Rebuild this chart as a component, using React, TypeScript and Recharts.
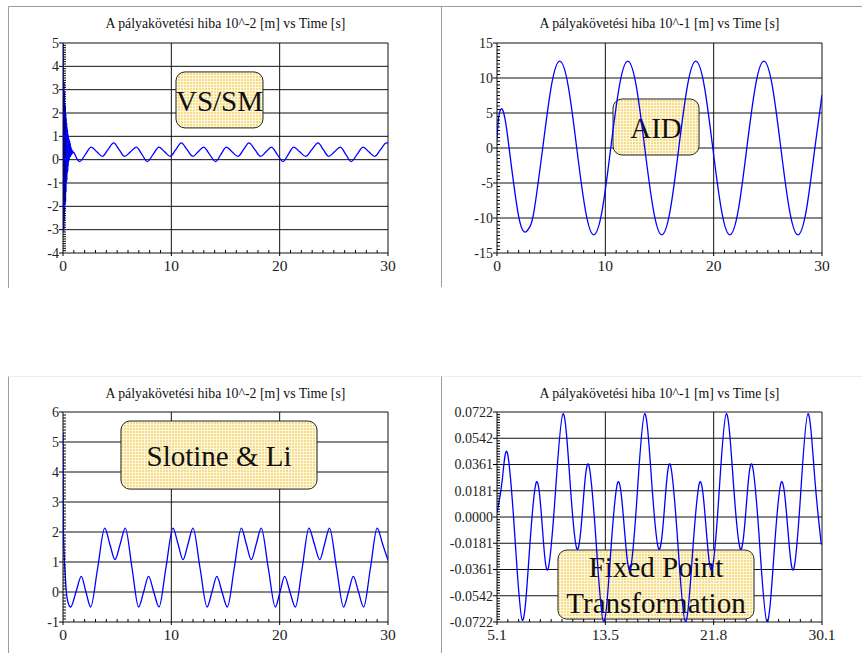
import React from 'react';
import { LineChart, Line, XAxis, YAxis, ReferenceLine, ReferenceArea } from 'recharts';

const serif = "'Liberation Serif', 'Times New Roman', serif";

// VS/SM tracking error [1e-2 m] vs time [s]
const vsSm: [number, number][] = [
  [0, 0], [0.02, 5.0], [0.04, -3.0], [0.06, 3.3], [0.08, -3.1], [0.1, 3.3], [0.12, -2.6], [0.14, 2.9],
  [0.16, -2.2], [0.18, 2.4], [0.2, -1.9], [0.22, 2.3], [0.24, -1.8], [0.26, 2.0], [0.28, -1.4], [0.3, 1.8],
  [0.32, -1.0], [0.34, 1.6], [0.36, -0.9], [0.38, 1.4], [0.4, -0.6], [0.42, 1.3], [0.44, -0.5], [0.46, 1.1],
  [0.48, -0.3], [0.5, 1.0], [0.53, -0.1], [0.56, 0.9], [0.59, 0.0], [0.62, 0.8], [0.65, 0.1], [0.68, 0.7],
  [0.71, 0.15], [0.74, 0.55], [0.77, 0.2], [0.8, 0.45], [0.84, 0.25], [0.88, 0.38], [0.92, 0.3], [0.98, 0.32],
  [1.1, 0.22], [1.3, 0.02], [1.54, -0.08], [2.07, 0.23], [2.6, 0.54], [3.12, 0.34], [3.63, 0.14], [4.15, 0.43],
  [4.68, 0.72], [5.18, 0.43], [5.69, 0.14], [6.23, 0.34], [6.77, 0.54], [7.28, 0.23], [7.78, -0.08], [8.32, 0.23],
  [8.86, 0.54], [9.38, 0.34], [9.9, 0.14], [10.41, 0.43], [10.92, 0.72], [11.45, 0.43], [11.99, 0.14], [12.48, 0.34],
  [12.98, 0.54], [13.53, 0.23], [14.09, -0.08], [14.58, 0.23], [15.08, 0.54], [15.6, 0.34], [16.15, 0.14], [16.66, 0.43],
  [17.17, 0.72], [17.71, 0.43], [18.25, 0.14], [18.74, 0.34], [19.23, 0.54], [19.77, 0.23], [20.31, -0.08], [20.8, 0.23],
  [21.29, 0.54], [21.85, 0.34], [22.4, 0.14], [22.97, 0.43], [23.54, 0.72], [24.03, 0.43], [24.52, 0.14], [25.06, 0.34],
  [25.6, 0.54], [26.1, 0.23], [26.6, -0.08], [27.15, 0.23], [27.7, 0.54], [28.23, 0.34], [28.77, 0.14], [29.31, 0.43],
  [29.85, 0.72], [30, 0.71],
];

// AID tracking error [1e-1 m]
const aid: [number, number][] = [
  [0, 1.2], [0.15, 4.3], [0.4, 5.6], [0.65, 4.8], [0.9, 2.6], [1.2, -1.0], [1.55, -5.2], [1.9, -8.9],
  [2.25, -11.3], [2.65, -12.0], [3.05, -11.2], [3.44, -8.8], [4.22, 0], [5.01, 8.8], [5.79, 12.4], [6.58, 8.8],
  [7.36, 0], [8.15, -8.8], [8.93, -12.4], [9.72, -8.8], [10.5, 0], [11.29, 8.8], [12.07, 12.4], [12.86, 8.8],
  [13.64, 0], [14.43, -8.8], [15.21, -12.4], [16.0, -8.8], [16.78, 0], [17.57, 8.8], [18.35, 12.4], [19.14, 8.8],
  [19.92, 0], [20.71, -8.8], [21.49, -12.4], [22.28, -8.8], [23.06, 0], [23.85, 8.8], [24.63, 12.4], [25.42, 8.8],
  [26.2, 0], [26.99, -8.8], [27.77, -12.4], [28.56, -8.8], [29.34, 0], [30, 7.6],
];

// Slotine & Li tracking error [1e-2 m]
const slotine: [number, number][] = [
  [0, 5.3], [0.04, 2.0], [0.2, 0.6], [0.4, -0.25], [0.7, -0.5], [1.2, 0.0], [1.69, 0.52], [2.12, 0.0],
  [2.55, -0.5], [3.2, 0.8], [3.85, 2.13], [4.32, 1.6], [4.8, 1.08], [5.28, 1.6], [5.75, 2.13], [6.37, 0.8],
  [6.98, -0.5], [7.44, 0.0], [7.9, 0.52], [8.38, 0.0], [8.86, -0.5], [9.5, 0.8], [10.15, 2.13], [10.62, 1.6],
  [11.08, 1.08], [11.54, 1.6], [12.0, 2.13], [12.65, 0.8], [13.3, -0.5], [13.75, 0.0], [14.2, 0.52], [14.68, 0.0],
  [15.17, -0.5], [15.81, 0.8], [16.46, 2.13], [16.92, 1.6], [17.38, 1.08], [17.84, 1.6], [18.3, 2.13], [18.95, 0.8],
  [19.6, -0.5], [20.03, 0.0], [20.46, 0.52], [20.95, 0.0], [21.45, -0.5], [22.08, 0.8], [22.7, 2.13], [23.2, 1.6],
  [23.7, 1.08], [24.15, 1.6], [24.6, 2.13], [25.25, 0.8], [25.9, -0.5], [26.35, 0.0], [26.8, 0.52], [27.28, 0.0],
  [27.75, -0.5], [28.38, 0.8], [29.0, 2.13], [29.5, 1.6], [30, 1.06],
];

// Fixed Point Transformation tracking error [1e-1 m]
const fpt: [number, number][] = [
  [5.1, 0.003], [5.5, 0.025], [5.9, 0.044], [6.48, -0.014], [7.05, -0.071], [7.59, -0.024], [8.13, 0.024], [8.58, -0.006],
  [9.02, -0.036], [9.6, 0.0175], [10.18, 0.071], [10.72, 0.024], [11.25, -0.022], [11.7, 0.007], [12.15, 0.036], [12.73, -0.018],
  [13.3, -0.072], [13.85, -0.024], [14.4, 0.024], [14.88, -0.006], [15.35, -0.036], [15.9, 0.0175], [16.46, 0.071], [17.0, 0.024],
  [17.54, -0.022], [17.99, 0.007], [18.43, 0.036], [19.01, -0.018], [19.59, -0.072], [20.15, -0.024], [20.7, 0.024], [21.17, -0.006],
  [21.64, -0.036], [22.19, 0.0175], [22.74, 0.071], [23.28, 0.024], [23.82, -0.022], [24.27, 0.007], [24.72, 0.036], [25.3, -0.018],
  [25.87, -0.072], [26.42, -0.024], [26.97, 0.024], [27.45, -0.006], [27.92, -0.036], [28.47, 0.0175], [29.02, 0.071], [29.55, 0.026],
  [30.05, -0.019],
];

const timeTicks = [0, 10, 20, 30];
const timeLabels = ['0', '10', '20', '30'];
const fptTimeTicks = [5.1, 13.4333, 21.7667, 30.1];
const fptTimeLabels = ['5.1', '13.5', '21.8', '30.1'];

const vsTicks = [-4, -3, -2, -1, 0, 1, 2, 3, 4, 5];
const vsLabels = ['-4', '-3', '-2', '-1', '0', '1', '2', '3', '4', '5'];
const aidTicks = [-15, -10, -5, 0, 5, 10, 15];
const aidLabels = ['-15', '-10', '-5', '0', '5', '10', '15'];
const slTicks = [-1, 0, 1, 2, 3, 4, 5, 6];
const slLabels = ['-1', '0', '1', '2', '3', '4', '5', '6'];
const fptTicks = [-0.0722, -0.05415, -0.0361, -0.01805, 0, 0.01805, 0.0361, 0.05415, 0.0722];
const fptLabels = ['-0.0722', '-0.0542', '-0.0361', '-0.0181', '0.0000', '0.0181', '0.0361', '0.0542', '0.0722'];

const titles = [
  'A pályakövetési hiba 10^-2 [m] vs Time [s]',
  'A pályakövetési hiba 10^-1 [m] vs Time [s]',
];

// major ticks subdivided in 10 for the little tick marks
function withMinor(majors: number[]) {
  const out: number[] = [];
  for (let i = 0; i < majors.length - 1; i++) {
    for (let k = 0; k < 10; k++) {
      out.push(k === 0 ? majors[i] : majors[i] + ((majors[i + 1] - majors[i]) * k) / 10);
    }
  }
  out.push(majors[majors.length - 1]);
  return out;
}

function yTick(labels: string[]) {
  return (p: any) => {
    const major = p.index % 10 === 0;
    if (!major) return <line x1={p.x} x2={p.x + 3} y1={p.y} y2={p.y} stroke="#000" />;
    return (
      <g>
        <line x1={p.x - 4} x2={p.x} y1={p.y} y2={p.y} stroke="#000" />
        <text x={p.x - 4} y={p.y} dy="0.34em" textAnchor="end" fontFamily={serif} fontSize={14} fill="#222">
          {labels[p.index / 10]}
        </text>
      </g>
    );
  };
}

function xTick(labels: string[]) {
  return (p: any) => {
    const major = p.index % 10 === 0;
    if (!major) return <line x1={p.x} x2={p.x} y1={p.y} y2={p.y - 3} stroke="#000" />;
    return (
      <g>
        <line x1={p.x} x2={p.x} y1={p.y} y2={p.y + 3} stroke="#000" />
        <text x={p.x} y={p.y + 17.5} textAnchor="middle" fontFamily={serif} fontSize={15.5} fill="#222">
          {labels[p.index / 10]}
        </text>
      </g>
    );
  };
}

function LabelBox(props: any) {
  const { x, y, width, height, pid, lines, dy } = props;
  const cx = x + width / 2;
  const cy = y + height / 2;
  return (
    <g>
      <defs>
        <pattern id={pid} width={3} height={3} patternUnits="userSpaceOnUse">
          <rect width={3} height={3} fill="#f5dc88" />
          <path d="M0 0.5H3M0.5 0V3" stroke="#fff8de" strokeWidth={1} />
        </pattern>
      </defs>
      <rect x={x} y={y} width={width} height={height} rx={9} ry={9} fill={`url(#${pid})`} stroke="#222" strokeWidth={1} />
      {lines.map((s: string, i: number) => (
        <text key={i} x={cx} y={cy + dy[i]} textAnchor="middle" fontFamily={serif} fontSize={29} fill="#111">
          {s}
        </text>
      ))}
    </g>
  );
}

type Box = { x1: number; x2: number; y1: number; y2: number; lines: string[]; dy: number[] };

interface PanelProps {
  id: string;
  left: number;
  top: number;
  height: number;
  margin: { top: number; right: number; bottom: number; left: number };
  series: [number, number][];
  xMajors: number[];
  xLabels: string[];
  yMajors: number[];
  yLabels: string[];
  curve: 'monotone' | 'natural';
  box: Box;
}

function Panel({ id, left, top, height, margin, series, xMajors, xLabels, yMajors, yLabels, curve, box }: PanelProps) {
  const rows = series.map(([t, e]) => ({ t, e }));
  const xDomain = [xMajors[0], xMajors[xMajors.length - 1]];
  const yDomain = [yMajors[0], yMajors[yMajors.length - 1]];
  return (
    <div style={{ position: 'absolute', left, top }}>
      <LineChart width={431} height={height} data={rows} margin={margin}>
        <XAxis
          dataKey="t"
          type="number"
          domain={xDomain}
          allowDataOverflow
          ticks={withMinor(xMajors)}
          interval={0}
          tickSize={0}
          tickMargin={0}
          axisLine={false}
          tickLine={false}
          height={30}
          tick={xTick(xLabels)}
        />
        <YAxis
          type="number"
          domain={yDomain}
          allowDataOverflow
          ticks={withMinor(yMajors)}
          interval={0}
          tickSize={0}
          tickMargin={0}
          axisLine={false}
          tickLine={false}
          width={50}
          tick={yTick(yLabels)}
        />
        {yMajors.map((v) => (
          <ReferenceLine key={'y' + v} y={v} stroke="#111" strokeWidth={1} zIndex={-50} />
        ))}
        {xMajors.map((v) => (
          <ReferenceLine key={'x' + v} x={v} stroke="#111" strokeWidth={1} zIndex={-50} />
        ))}
        <ReferenceArea
          x1={box.x1}
          x2={box.x2}
          y1={box.y1}
          y2={box.y2}
          zIndex={50}
          shape={(p: any) => <LabelBox {...p} pid={'pat-' + id} lines={box.lines} dy={box.dy} />}
        />
        <Line
          dataKey="e"
          type={curve}
          stroke="#0000ff"
          strokeWidth={1.3}
          dot={false}
          activeDot={false}
          isAnimationActive={false}
        />
      </LineChart>
    </div>
  );
}

export default function App() {
  const frame = '#9c9c9c';
  return (
    <div style={{ position: 'absolute', left: 0, top: 0, width: 862, height: 653, background: '#fff', overflow: 'hidden' }}>
      <svg width={862} height={653} style={{ position: 'absolute', left: 0, top: 0 }}>
        <line x1={8.5} y1={6.5} x2={862} y2={6.5} stroke={frame} />
        <line x1={8.5} y1={6.5} x2={8.5} y2={288} stroke={frame} />
        <line x1={441.5} y1={6.5} x2={441.5} y2={287} stroke={frame} />
        <line x1={8.5} y1={376.5} x2={862} y2={376.5} stroke="#ededed" />
        <line x1={8.5} y1={376.5} x2={8.5} y2={653} stroke={frame} />
        <line x1={441.5} y1={376.5} x2={441.5} y2={653} stroke={frame} />
        <text x={225.5} y={28.3} textAnchor="middle" fontFamily={serif} fontSize={13.8} fill="#111">{titles[0]}</text>
        <text x={659.5} y={28.3} textAnchor="middle" fontFamily={serif} fontSize={13.8} fill="#111">{titles[1]}</text>
        <text x={225.5} y={398.3} textAnchor="middle" fontFamily={serif} fontSize={13.8} fill="#111">{titles[0]}</text>
        <text x={659.5} y={398.3} textAnchor="middle" fontFamily={serif} fontSize={13.8} fill="#111">{titles[1]}</text>
      </svg>
      <Panel
        id="vs"
        left={0}
        top={0}
        height={300}
        margin={{ top: 43, right: 43, bottom: 17, left: 13 }}
        series={vsSm}
        xMajors={timeTicks}
        xLabels={timeLabels}
        yMajors={vsTicks}
        yLabels={vsLabels}
        curve="monotone"
        box={{ x1: 10.43, x2: 18.46, y1: 1.36, y2: 3.76, lines: ['VS/SM'], dy: [11] }}
      />
      <Panel
        id="aid"
        left={431}
        top={0}
        height={300}
        margin={{ top: 43, right: 40, bottom: 17, left: 16 }}
        series={aid}
        xMajors={timeTicks}
        xLabels={timeLabels}
        yMajors={aidTicks}
        yLabels={aidLabels}
        curve="natural"
        box={{ x1: 10.71, x2: 18.65, y1: -1.0, y2: 7.0, lines: ['AID'], dy: [11] }}
      />
      <Panel
        id="sl"
        left={0}
        top={370}
        height={283}
        margin={{ top: 42, right: 43, bottom: 1, left: 13 }}
        series={slotine}
        xMajors={timeTicks}
        xLabels={timeLabels}
        yMajors={slTicks}
        yLabels={slLabels}
        curve="monotone"
        box={{ x1: 5.35, x2: 23.45, y1: 3.43, y2: 5.7, lines: ['Slotine & Li'], dy: [11] }}
      />
      <Panel
        id="fpt"
        left={431}
        top={370}
        height={283}
        margin={{ top: 42, right: 40, bottom: 1, left: 16 }}
        series={fpt}
        xMajors={fptTimeTicks}
        xLabels={fptTimeLabels}
        yMajors={fptTicks}
        yLabels={fptLabels}
        curve="natural"
        box={{ x1: 9.79, x2: 24.87, y1: -0.0702, y2: -0.0227, lines: ['Fixed Point', 'Transformation'], dy: [-7.5, 28] }}
      />
    </div>
  );
}
